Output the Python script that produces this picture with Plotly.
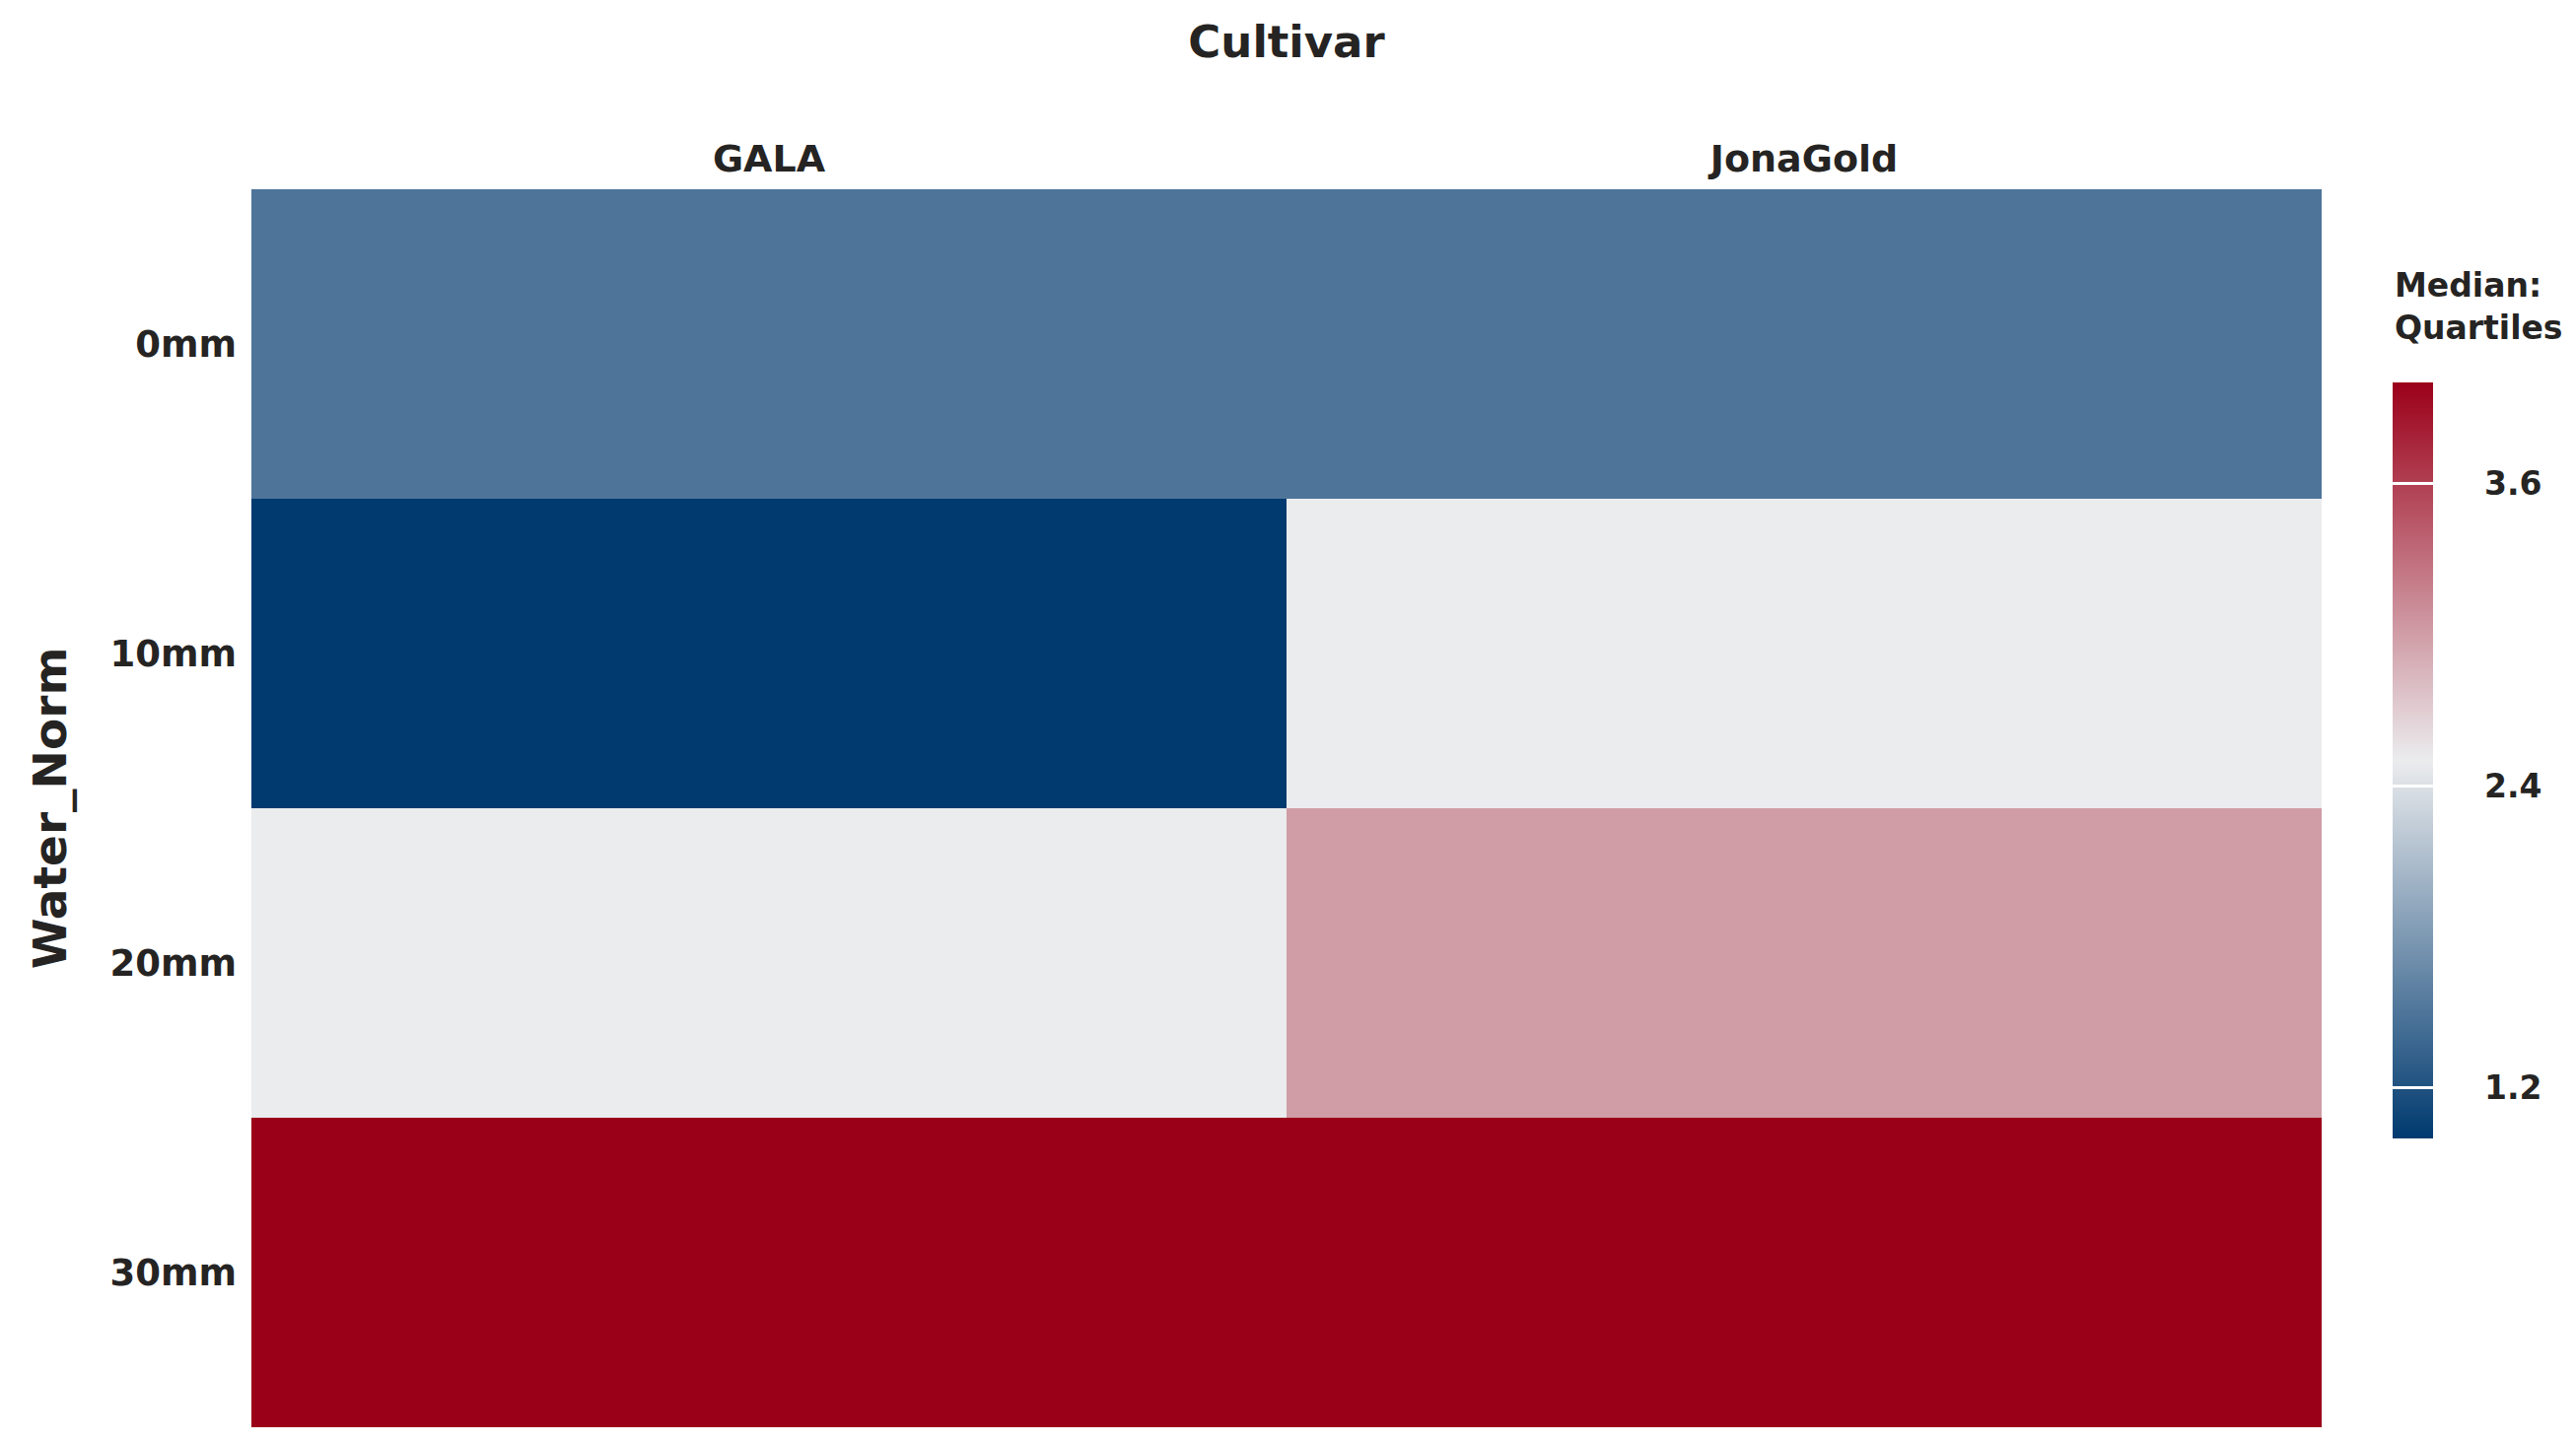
import plotly.graph_objects as go

cultivars = ["GALA", "JonaGold"]
water_norm = ["0mm", "10mm", "20mm", "30mm"]
median_quartiles = [
    [1.5, 1.5],
    [1.0, 2.5],
    [2.5, 3.0],
    [4.0, 4.0],
]
cbar_ticks = [1.2, 2.4, 3.6]

FONT = "DejaVu Sans"
TXT = "#252423"
SCALE = [[0, "#003A6F"], [0.5, "#EBECEE"], [1, "#9B0019"]]

# page body has an 8px margin; figure sized to fit inside the window
OFF = 8
W, H = 2613 - 2 * OFF, 1464 - 2 * OFF
L = 255 - OFF
T = 192 - OFF
R = W - (2355 - OFF)
B = H - (1448 - OFF)
PW, PH = W - L - R, H - T - B

CB_X = (2427 - OFF - L) / PW
CB_Y = (T + PH - (771.5 - OFF)) / PH

base_cb = dict(
    thickness=41,
    thicknessmode="pixels",
    len=767,
    lenmode="pixels",
    x=CB_X,
    xanchor="left",
    xpad=0,
    ypad=0,
    y=CB_Y,
    yanchor="middle",
    outlinewidth=0,
    tickvals=cbar_ticks,
    ticktext=[f"{v:.1f}" for v in cbar_ticks],
    tickfont=dict(family=FONT, size=33, color=TXT, weight="bold"),
)

# labelled colour bar (ticks outside, invisible, to push the labels away)
cb_labels = dict(base_cb, ticks="outside", ticklen=46, tickcolor="rgba(0,0,0,0)")
# same colour bar again with white tick lines across the bar, no labels
cb_lines = dict(base_cb, ticks="inside", ticklen=41, tickwidth=3,
                tickcolor="white", showticklabels=False)

fig = go.Figure()
for cb in (cb_labels, cb_lines):
    fig.add_trace(
        go.Heatmap(
            x=cultivars,
            y=water_norm,
            z=median_quartiles,
            zmin=1.0,
            zmax=4.0,
            colorscale=SCALE,
            xgap=0,
            ygap=0,
            colorbar=cb,
            hovertemplate="%{x}, %{y}: %{z}<extra></extra>",
        )
    )

fig.add_annotation(
    text="Median:<br>Quartiles",
    xref="paper",
    yref="paper",
    x=CB_X,
    y=(T + PH - (268 - OFF)) / PH,
    xanchor="left",
    yanchor="top",
    align="left",
    showarrow=False,
    font=dict(family=FONT, size=33, color=TXT, weight="bold"),
)

fig.update_layout(
    width=W,
    height=H,
    margin=dict(l=L, r=R, t=T, b=B, pad=0),
    paper_bgcolor="white",
    plot_bgcolor="white",
    title=dict(
        text="Cultivar",
        x=0.5,
        xref="paper",
        y=1 - (42 - OFF) / H,
        yref="container",
        xanchor="center",
        yanchor="middle",
        font=dict(family=FONT, size=45, color=TXT, weight="bold"),
    ),
    xaxis=dict(
        side="top",
        showgrid=False,
        zeroline=False,
        showline=False,
        ticks="",
        ticklabelstandoff=9,
        tickfont=dict(family=FONT, size=38, color=TXT, weight="bold"),
    ),
    yaxis=dict(
        autorange="reversed",
        showgrid=False,
        zeroline=False,
        showline=False,
        ticks="",
        ticklabelstandoff=14,
        tickfont=dict(family=FONT, size=37, color=TXT, weight="bold"),
        title=dict(
            text="Water_Norm",
            standoff=28,
            font=dict(family=FONT, size=47, color=TXT, weight="bold"),
        ),
    ),
)

fig.write_html("out.html")
